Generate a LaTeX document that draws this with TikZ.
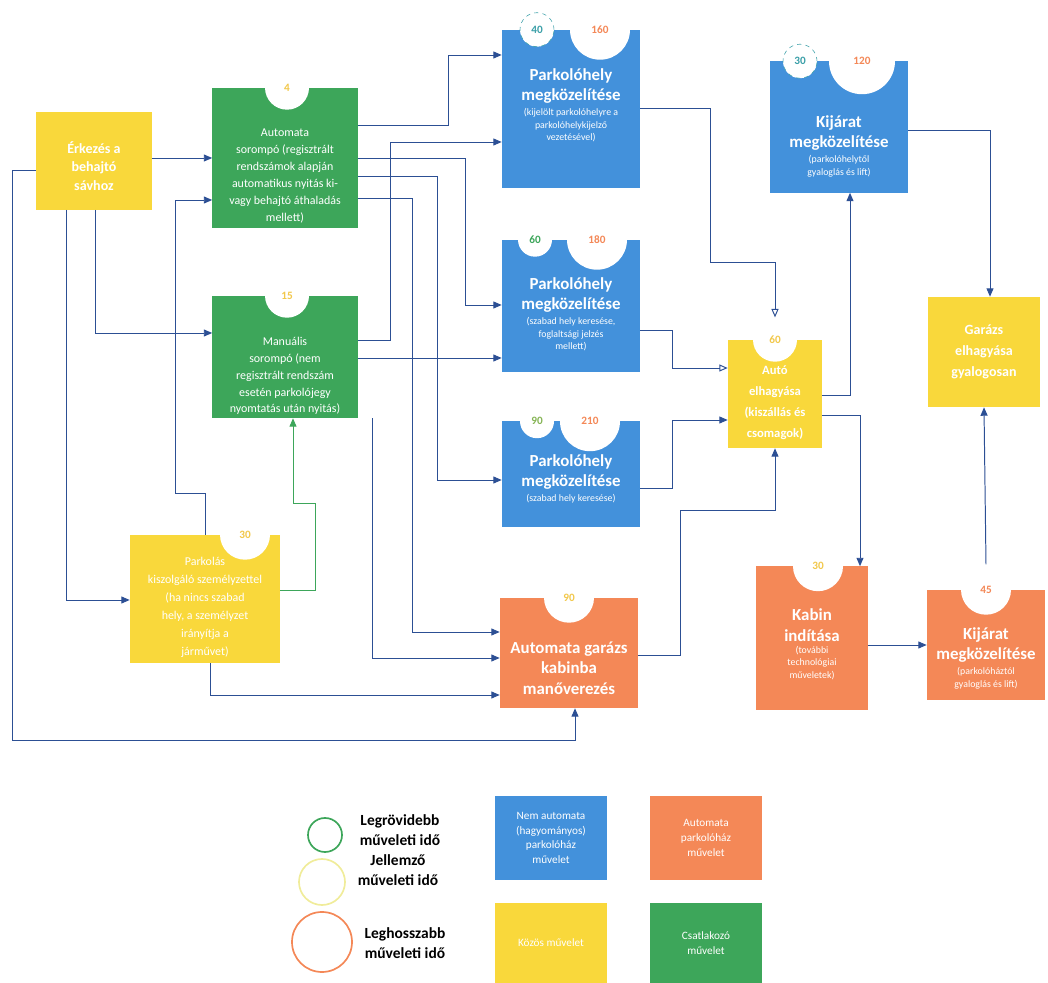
\documentclass[tikz,border=0pt]{standalone}
\usepackage{fontspec}
\setmainfont{Carlito}
\usetikzlibrary{arrows.meta,positioning}

\definecolor{kek}{HTML}{4391DB}
\definecolor{zold}{HTML}{3DA65A}
\definecolor{sarga}{HTML}{F9D83B}
\definecolor{narancs}{HTML}{F48857}
\definecolor{nyil}{HTML}{2C4F94}
\definecolor{turkiz}{HTML}{3A9FA8}
\definecolor{halvany}{HTML}{F0EC9A}
\definecolor{szam}{HTML}{F2C84B}

\begin{document}
\begin{tikzpicture}[x=0.025cm, y=-0.025cm,
    box/.style={rectangle, inner sep=0pt},
    bluebox/.style={box, fill=kek},
    greenbox/.style={box, fill=zold},
    yellowbox/.style={box, fill=sarga},
    orangebox/.style={box, fill=narancs},
    ttl/.style={text=white, align=center, inner sep=0pt, font=\bfseries\fontsize{12}{14.5}\selectfont},
    sub/.style={text=white, align=center, inner sep=0pt, font=\fontsize{7}{9}\selectfont},
    txt/.style={text=white, align=center, inner sep=0pt, font=\fontsize{8.5}{12}\selectfont},
    notch/.style={circle, fill=white, inner sep=0pt, font=\bfseries\fontsize{8}{9}\selectfont},
    legtxt/.style={align=center, inner sep=0pt, font=\bfseries\fontsize{11}{14}\selectfont},
    arr/.style={draw=nyil, line width=0.7pt, -{Triangle[length=6pt,width=5pt]}},
    oarr/.style={draw=nyil, line width=0.7pt, -{Triangle[open,length=6pt,width=5pt]}}]

    \useasboundingbox (0,0) rectangle (1048,983);

    % Boxes
    \node[yellowbox, minimum width=2.875cm, minimum height=2.425cm] (a) at (94,161) {};
    \node[greenbox, minimum width=3.625cm, minimum height=3.5cm] (g1) at (285,158) {};
    \node[greenbox, minimum width=3.625cm, minimum height=3.05cm] (g2) at (285,357) {};
    \node[bluebox, minimum width=3.45cm, minimum height=3.95cm] (b1) at (571,109) {};
    \node[bluebox, minimum width=3.45cm, minimum height=3.3cm] (b2) at (571,306) {};
    \node[bluebox, minimum width=3.45cm, minimum height=2.625cm] (b3) at (571,474) {};
    \node[yellowbox, minimum width=2.35cm, minimum height=2.7cm] (c) at (775,394) {};
    \node[yellowbox, minimum width=3.75cm, minimum height=3.2cm] (l) at (205,599) {};
    \node[orangebox, minimum width=3.45cm, minimum height=2.75cm] (o1) at (569,653) {};
    \node[bluebox, minimum width=3.45cm, minimum height=3.275cm] (r1) at (839,127) {};
    \node[yellowbox, minimum width=2.8cm, minimum height=2.75cm] (r2) at (984,352) {};
    \node[orangebox, minimum width=2.775cm, minimum height=3.575cm] (k1) at (812,638) {};
    \node[orangebox, minimum width=2.95cm, minimum height=2.75cm] (k2) at (986,645) {};

    % Notches with times
    \node[notch, minimum size=1.1cm, text=szam] (g1n) at (g1.north -| 287,0) {4};
    \node[notch, minimum size=1.1cm, text=szam] (g2n) at (g2.north -| 287,0) {15};
    \node[notch, minimum size=0.85cm, text=turkiz, draw=turkiz, dashed] (b1n) at (b1.north -| 537,0) {40};
    \node[notch, minimum size=1.5cm, text=narancs] (b1m) at (b1.north -| 600,0) {160};
    \node[notch, minimum size=0.85cm, text=zold] (b2n) at (b2.north -| 535,0) {60};
    \node[notch, minimum size=1.5cm, text=narancs] (b2m) at (b2.north -| 597,0) {180};
    \node[notch, minimum size=0.85cm, text=zold!60!szam] (b3n) at (b3.north -| 537,0) {90};
    \node[notch, minimum size=1.5cm, text=narancs] (b3m) at (b3.north -| 590,0) {210};
    \node[notch, minimum size=1.1cm, text=szam] (cn) at (c.north) {60};
    \node[notch, minimum size=1.25cm, text=szam] (ln) at (l.north -| 245,0) {30};
    \node[notch, minimum size=1.25cm, text=szam] (o1n) at (o1.north) {90};
    \node[notch, minimum size=0.85cm, text=turkiz, draw=turkiz, dashed] (r1n) at (r1.north -| 800,0) {30};
    \node[notch, minimum size=1.65cm, text=narancs] (r1m) at (r1.north -| 862,0) {120};
    \node[notch, minimum size=1.25cm, text=szam] (k1n) at (k1.north -| 818,0) {30};
    \node[notch, minimum size=1.25cm, text=narancs] (k2n) at (k2.north) {45};

    % Texts
    \node[txt, font=\bfseries\fontsize{10}{13}\selectfont] (at) at (94,166) {Érkezés a\\behajtó\\sávhoz};
    \node[txt] (g1t) at (285,176) {Automata\\sorompó (regisztrált\\rendszámok alapján\\automatikus nyitás ki-\\vagy behajtó áthaladás\\mellett)};
    \node[txt] (g2t) at (285,376) {Manuális\\sorompó (nem\\regisztrált rendszám\\esetén parkolójegy\\nyomtatás után nyitás)};
    \node[ttl] (b1t) at (571,86) {Parkolóhely\\megközelítése};
    \node[sub, below=3pt of b1t] (b1s) {(kijelölt parkolóhelyre a\\parkolóhelykijelző\\vezetésével)};
    \node[ttl] (b2t) at (571,295) {Parkolóhely\\megközelítése};
    \node[sub, below=3pt of b2t] (b2s) {(szabad hely keresése,\\foglaltsági jelzés\\mellett)};
    \node[ttl] (b3t) at (571,472) {Parkolóhely\\megközelítése};
    \node[sub, below=3pt of b3t] (b3s) {(szabad hely keresése)};
    \node[txt, font=\bfseries\fontsize{9}{15}\selectfont] (ct) at (775,403) {Autó\\elhagyása\\(kiszállás és\\csomagok)};
    \node[txt, font=\fontsize{8.5}{12.8}\selectfont] (lt) at (205,607) {Parkolás\\kiszolgáló személyzettel\\(ha nincs szabad\\hely, a személyzet\\irányítja a\\járművet)};
    \node[ttl] (o1t) at (569,668) {Automata garázs\\kabinba\\manőverezés};
    \node[ttl] (r1t) at (839,133) {Kijárat\\megközelítése};
    \node[sub, below=3pt of r1t] (r1s) {(parkolóhelytől\\gyaloglás és lift)};
    \node[txt, font=\bfseries\fontsize{10}{15}\selectfont] (r2t) at (984,352) {Garázs\\elhagyása\\gyalogosan};
    \node[ttl] (k1t) at (812,625) {Kabin\\indítása};
    \node[sub, below=3pt of k1t] (k1s) {(további\\technológiai\\műveletek)};
    \node[ttl] (k2t) at (986,645) {Kijárat\\megközelítése};
    \node[sub, below=3pt of k2t] (k2s) {(parkolóháztól\\gyaloglás és lift)};

    % Connectors
    \draw[arr] (a.east |- 0,158) -- (g1.west |- 0,158);
    \draw[arr] (a.west |- 0,170) -- (12,170) -- (12,740) -| ([xshift=0.15cm]o1.south);
    \draw[arr] (a.south -| 95,0) |- (g2.west |- 0,333);
    \draw[arr] (a.south -| 66,0) |- (l.west |- 0,600);
    \draw[arr] (l.north -| 205,0) -- (205,493) -| (175,200) -- (g1.west |- 0,200);
    \draw[arr, draw=zold] (l.east |- 0,590) -- (315,590) -- (315,503) -| (g2.south -| 293,0);
    \draw[arr] (l.south -| 210,0) |- (o1.west |- 0,695);
    \draw[arr] (g1.east |- 0,125) -| (448,55) -- (b1.west |- 0,55);
    \draw[arr] (g1.east |- 0,158) -| (465,305) -- (b2.west |- 0,305);
    \draw[arr] (g1.east |- 0,176) -| (437,480) -- (b3.west |- 0,480);
    \draw[arr] (g1.east |- 0,198) -| (412,632) -- (o1.west |- 0,632);
    \draw[arr] (g2.east |- 0,340) -| (390,142) -- (b1.west |- 0,142);
    \draw[arr] (g2.east |- 0,358) -- (b2.west |- 0,358);
    \draw[arr] (g2.south -| 372,0) |- (o1.west |- 0,658);
    \draw[oarr] (b1.east |- 0,108) -| (710,262) -| (cn.north);
    \draw[oarr] (b2.east |- 0,330) -| (672,368) -- (c.west |- 0,368);
    \draw[arr] (b3.east |- 0,488) -| (672,420) -- (c.west |- 0,420);
    \draw[arr] (o1.east |- 0,655) -| (680,510) -| (c.south);
    \draw[arr] (c.east |- 0,395) -| (r1.south -| 850,0);
    \draw[arr] (c.east |- 0,415) -| (k1.north -| 860,0);
    \draw[arr] (r1.east |- 0,130) -| (r2.north -| 990,0);
    \draw[arr] (k1.east |- 0,645) -- (k2.west |- 0,645);
    \draw[arr] (k2n.north) -- (r2.south);

    % Legend
    \node[circle, draw=zold, line width=1.2pt, minimum size=0.85cm] (lg1) at (325,835) {};
    \node[circle, draw=halvany, line width=1.2pt, minimum size=1.15cm] (lg2) at (322,882) {};
    \node[circle, draw=narancs, line width=1.2pt, minimum size=1.5cm] (lg3) at (322,942) {};
    \node[legtxt] (lg1t) at (400,830) {Legrövidebb\\műveleti idő};
    \node[legtxt] (lg2t) at (398,870) {Jellemző\\műveleti idő};
    \node[legtxt] (lg3t) at (405,943) {Leghosszabb\\műveleti idő};
    \node[bluebox, minimum width=2.775cm, minimum height=2.1cm, text=white, align=center, font=\fontsize{8}{10.5}\selectfont] (lb) at (551,838) {Nem automata\\(hagyományos)\\parkolóház\\művelet};
    \node[orangebox, minimum width=2.775cm, minimum height=2.1cm, text=white, align=center, font=\fontsize{8}{10.5}\selectfont] (lo) at (706,838) {Automata\\parkolóház\\művelet};
    \node[yellowbox, minimum width=2.775cm, minimum height=2cm, text=white, align=center, font=\fontsize{8}{10.5}\selectfont] (ly) at (551,943) {Közös művelet};
    \node[greenbox, minimum width=2.775cm, minimum height=2cm, text=white, align=center, font=\fontsize{8}{10.5}\selectfont] (lz) at (706,943) {Csatlakozó\\művelet};
\end{tikzpicture}
\end{document}
